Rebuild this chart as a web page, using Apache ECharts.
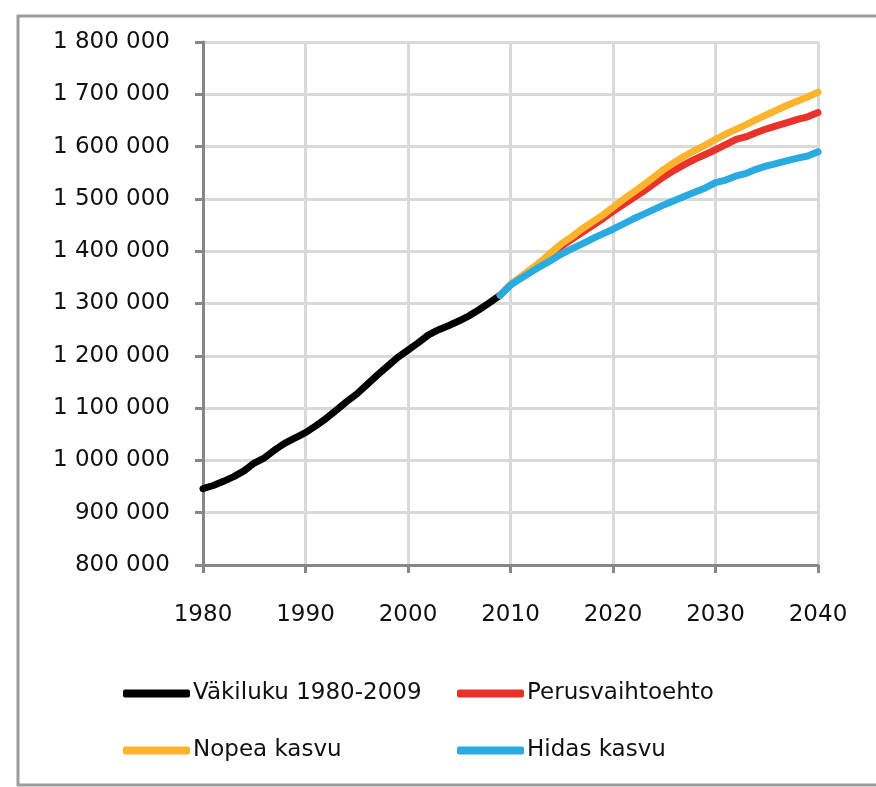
<!DOCTYPE html>
<html>
<head>
<meta charset="utf-8">
<title>Väkiluku</title>
<script src="https://cdn.jsdelivr.net/npm/echarts@6/dist/echarts.min.js"></script>
<style>
	html, body { margin: 0; padding: 0; background: #ffffff; }
	#main { width: 876px; height: 787px; }
</style>
</head>
<body>
<div id="main"></div>
<script>
// vuodet
var histYears = [1980, 1981, 1982, 1983, 1984, 1985, 1986, 1987, 1988, 1989,
	1990, 1991, 1992, 1993, 1994, 1995, 1996, 1997, 1998, 1999,
	2000, 2001, 2002, 2003, 2004, 2005, 2006, 2007, 2008, 2009];
var projYears = [2009, 2010, 2011, 2012, 2013, 2014, 2015, 2016, 2017, 2018, 2019,
	2020, 2021, 2022, 2023, 2024, 2025, 2026, 2027, 2028, 2029,
	2030, 2031, 2032, 2033, 2034, 2035, 2036, 2037, 2038, 2039, 2040];

// väkiluku 1980-2009
var vakiluku = [946000, 952000, 960000, 969000, 980000, 995000, 1005000, 1020000, 1033000, 1043000,
	1053000, 1066000, 1080000, 1096000, 1112000, 1127000, 1145000, 1163000, 1180000, 1197000,
	1211000, 1225000, 1240000, 1250000, 1258000, 1267000, 1277000, 1289000, 1302000, 1316000];

// ennusteet
var perus = [1316000, 1336000, 1350000, 1364000, 1378000, 1394000, 1410000, 1423000, 1436000, 1449000, 1462000,
	1476000, 1489000, 1502000, 1515000, 1529000, 1543000, 1555000, 1566000, 1576000, 1585000,
	1594000, 1604000, 1614000, 1619000, 1627000, 1634000, 1640000, 1646000, 1652000, 1657000, 1665000];
var nopea = [1316000, 1336000, 1351000, 1366000, 1381000, 1398000, 1415000, 1428000, 1443000, 1456000, 1469000,
	1484000, 1499000, 1513000, 1527000, 1542000, 1557000, 1570000, 1582000, 1593000, 1603000,
	1614000, 1624000, 1633000, 1642000, 1652000, 1661000, 1670000, 1679000, 1687000, 1695000, 1704000];
var hidas = [1316000, 1335000, 1348000, 1360000, 1372000, 1383000, 1395000, 1405000, 1414000, 1424000, 1433000,
	1442000, 1452000, 1462000, 1471000, 1480000, 1489000, 1497000, 1505000, 1513000, 1521000,
	1531000, 1536000, 1544000, 1549000, 1557000, 1563000, 1568000, 1573000, 1578000, 1582000, 1590000];

var seriesNames = ['Väkiluku 1980-2009', 'Perusvaihtoehto', 'Nopea kasvu', 'Hidas kasvu'];
var colors = ['#000000', '#e8322a', '#fbb42c', '#29abe2'];

function pairs(years, values) {
	return years.map(function (y, i) { return [y, values[i]]; });
}

// 1800000 -> "1 800 000"
function spaced(v) {
	return String(v).replace(/\B(?=(\d{3})+(?!\d))/g, ' ');
}

var chart = echarts.init(document.getElementById('main'), null, { renderer: 'canvas' });

var font = 'DejaVu Sans';
var lineStyle = function (c) {
	return { width: 7, color: c, cap: 'round', join: 'round' };
};
var legendBase = {
	orient: 'vertical',
	top: 682,
	padding: 0,
	itemGap: 34,
	itemWidth: 67,
	itemHeight: 8,
	icon: 'roundRect',
	textStyle: { fontFamily: font, fontSize: 23, color: '#111111', padding: [0, 0, 0, -2] }
};

var option = {
	backgroundColor: '#ffffff',
	animation: false,
	color: colors,
	graphic: [{
		type: 'rect',
		shape: { x: 18, y: 16, width: 900, height: 769 },
		style: { fill: 'none', stroke: '#9c9c9c', lineWidth: 3 }
	}],
	grid: { left: 203, right: 58, top: 42, bottom: 222 },
	xAxis: {
		type: 'value',
		min: 1980,
		max: 2040,
		interval: 10,
		axisLine: { lineStyle: { color: '#878787', width: 3 } },
		axisTick: { show: true, length: 8, lineStyle: { color: '#878787', width: 3 } },
		axisLabel: { margin: 39, fontFamily: font, fontSize: 23, color: '#111111', formatter: function (v) { return String(v); } },
		splitLine: { show: true, lineStyle: { color: '#d9d9d9', width: 3 } }
	},
	yAxis: {
		type: 'value',
		min: 800000,
		max: 1800000,
		interval: 100000,
		axisLine: { show: true, lineStyle: { color: '#878787', width: 3 } },
		axisTick: { show: true, length: 8, lineStyle: { color: '#878787', width: 3 } },
		axisLabel: { margin: 33, fontFamily: font, fontSize: 23, color: '#111111', formatter: spaced },
		splitLine: { show: true, lineStyle: { color: '#d9d9d9', width: 3 } }
	},
	legend: [
		Object.assign({}, legendBase, { left: 123, data: [seriesNames[0], seriesNames[2]] }),
		Object.assign({}, legendBase, { left: 457, data: [seriesNames[1], seriesNames[3]] })
	],
	series: [
		{ name: seriesNames[0], type: 'line', showSymbol: false, data: pairs(histYears, vakiluku), lineStyle: lineStyle(colors[0]) },
		{ name: seriesNames[1], type: 'line', showSymbol: false, data: pairs(projYears, perus), lineStyle: lineStyle(colors[1]) },
		{ name: seriesNames[2], type: 'line', showSymbol: false, data: pairs(projYears, nopea), lineStyle: lineStyle(colors[2]) },
		{ name: seriesNames[3], type: 'line', showSymbol: false, data: pairs(projYears, hidas), lineStyle: lineStyle(colors[3]) }
	]
};

chart.setOption(option);
</script>
</body>
</html>
